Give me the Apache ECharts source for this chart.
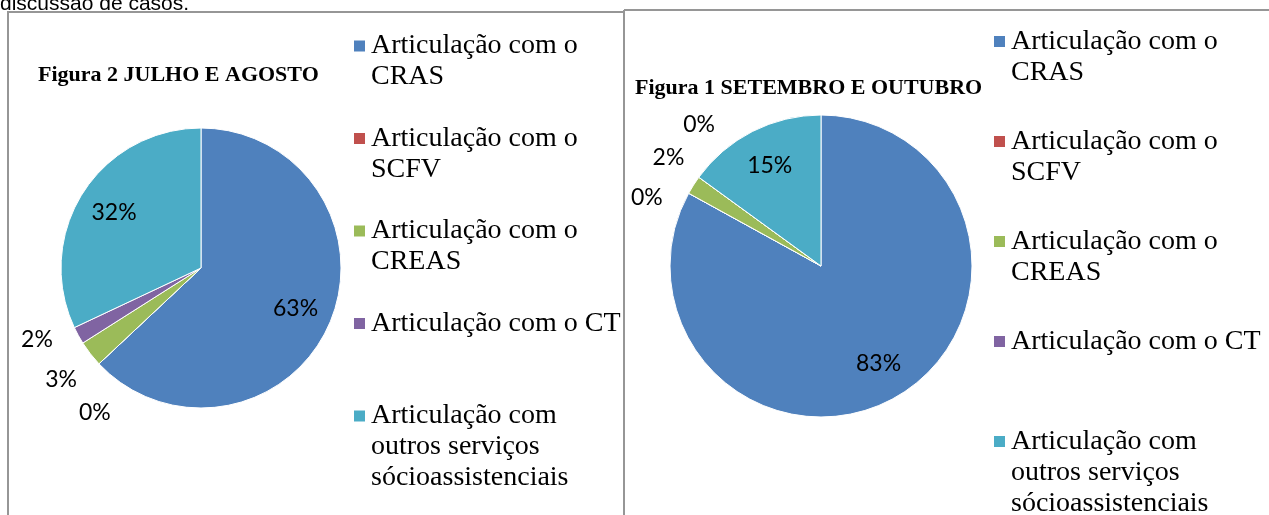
<!DOCTYPE html>
<html><head><meta charset="utf-8">
<script src="https://cdn.jsdelivr.net/npm/echarts@6.0.0/dist/echarts.min.js"></script>
<style>html,body{margin:0;padding:0;background:#fff;overflow:hidden;} #c{width:1269px;height:515px;}</style>
</head><body><div id="c"></div>
<script>
const categories = ['Articulação com o CRAS','Articulação com o SCFV','Articulação com o CREAS','Articulação com o CT','Articulação com outros serviços sócioassistenciais'];
const legendLines = [['Articulação com o','CRAS'],['Articulação com o','SCFV'],['Articulação com o','CREAS'],['Articulação com o CT'],['Articulação com','outros serviços','sócioassistenciais']];
const valuesJulAgo = [63,0,3,2,32];
const valuesSetOut = [83,0,2,0,15];
const titleJulAgo = 'Figura 2 JULHO E AGOSTO';
const titleSetOut = 'Figura 1 SETEMBRO E OUTUBRO';
const topText = 'discussão de casos.';
const colors = ['#4F81BD','#C0504D','#9BBB59','#8064A2','#4BACC6'];

const LH = 31;
const SMALL = 10; // slices below this share get their label outside the pie
const labelFont = {fontFamily:'Lato', fontSize:23, color:'#000'};
const pctFmt = p => p.value + '%';

function mainPie(values, center, radius) {
  return {
    type:'pie', center:center, radius:radius, startAngle:90, clockwise:true,
    animation:false, silent:true,
    itemStyle:{borderColor:'#fff', borderWidth:1},
    label:{show:false}, labelLine:{show:false},
    emphasis:{disabled:true},
    data:categories.map((n,i)=>({name:n, value:values[i]}))
  };
}
// invisible helper pie that only places the percentage labels
function labelPie(values, center, radius, showSmall, minAngle, startAngle) {
  return {
    type:'pie', center:center, radius:radius, startAngle:startAngle, clockwise:true,
    minAngle:minAngle, animation:false, silent:true,
    itemStyle:{color:'rgba(0,0,0,0)', borderWidth:0},
    label:Object.assign({show:true, position:'inside', formatter:pctFmt}, labelFont),
    labelLine:{show:false},
    emphasis:{disabled:true},
    data:categories.map((n,i)=>({name:n, value:values[i], label:{show: showSmall ? values[i] < SMALL : values[i] >= SMALL}}))
  };
}
function legendsFor(left, firstCenter, step) {
  return categories.map((n,i)=>{
    const lines = legendLines[i].length;
    return {
      left:left, top:firstCenter + step*i - (2*lines-1)*LH/2, orient:'vertical', padding:0,
      icon:'rect', itemWidth:13, itemHeight:13, selectedMode:false, itemGap:0,
      data:[n],
      formatter: name => { const l = legendLines[categories.indexOf(name)]; return '\n'.repeat(l.length-1) + l.join('\n'); },
      textStyle:{fontFamily:'Liberation Serif', fontSize:28, lineHeight:LH, color:'#000'}
    };
  });
}

const chart = echarts.init(document.getElementById('c'));
chart.setOption({
  backgroundColor:'#fff',
  color:colors,
  animation:false,
  title:[
    {text:titleJulAgo, left:38, top:63, padding:0, textStyle:{fontFamily:'Liberation Serif', fontWeight:'bold', fontSize:22, lineHeight:24, color:'#000'}},
    {text:titleSetOut, left:635, top:76, padding:0, textStyle:{fontFamily:'Liberation Serif', fontWeight:'bold', fontSize:22, lineHeight:24, color:'#000'}}
  ],
  legend: legendsFor(352, 46, 92.5).concat(legendsFor(992, 41.5, 100)),
  series:[
    mainPie(valuesJulAgo, [201,268], 140),
    mainPie(valuesSetOut, [821,266], 151),
    labelPie(valuesJulAgo, [201,268], 200, false, 0, 90),
    labelPie(valuesSetOut, [821,266], 220, false, 0, 90),
    labelPie(valuesJulAgo, [201,268], 352, true, 15, 90),
    labelPie(valuesSetOut, [821,266], 368, true, 14, 75)
  ],
  graphic:[
    {type:'polyline', silent:true, shape:{points:[[8,515],[8,12],[624,12]]}, style:{stroke:'#969696', lineWidth:2, fill:null}},
    {type:'line', silent:true, shape:{x1:624,y1:10,x2:624,y2:515}, style:{stroke:'#969696', lineWidth:2}},
    {type:'line', silent:true, shape:{x1:624,y1:10,x2:1269,y2:10}, style:{stroke:'#969696', lineWidth:2}},
    {type:'text', silent:true, x:0, y:4, style:{text:topText, font:'21px "Liberation Sans"', fill:'#000', verticalAlign:'middle'}}
  ]
});
</script>
</body></html>
